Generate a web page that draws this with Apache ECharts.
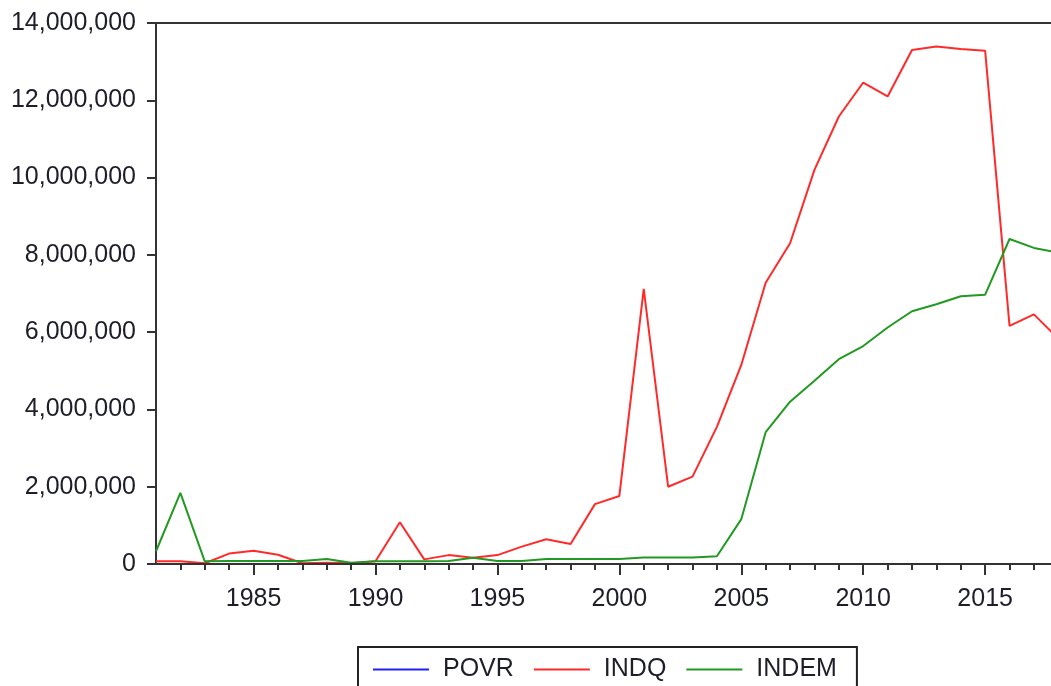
<!DOCTYPE html>
<html>
<head>
<meta charset="utf-8">
<script src="https://cdn.jsdelivr.net/npm/echarts@6/dist/echarts.min.js"></script>
<style>
html,body{margin:0;padding:0;background:#fff;}
#chart{width:1051px;height:686px;}
</style>
</head>
<body>
<div id="chart"></div>
<script>
const years = [1981,1982,1983,1984,1985,1986,1987,1988,1989,1990,1991,1992,1993,1994,1995,1996,1997,1998,1999,2000,2001,2002,2003,2004,2005,2006,2007,2008,2009,2010,2011,2012,2013,2014,2015,2016,2017,2018];
const povr  = [0,0,0,0,0,0,0,0,0,0,0,0,0,0,0,0,0,0,0,0,0,0,0,0,0,0,0,0,0,0,0,0,0,0,0,0,0,0];
const indq  = [70000,70000,20000,270000,340000,240000,20000,30000,20000,70000,1080000,120000,230000,160000,230000,450000,640000,520000,1550000,1760000,7120000,2000000,2260000,3550000,5150000,7280000,8300000,10200000,11580000,12460000,12100000,13300000,13390000,13330000,13280000,6160000,6460000,5830000];
const indem = [330000,1840000,70000,80000,80000,80000,80000,130000,30000,70000,70000,70000,80000,160000,80000,80000,130000,130000,130000,130000,170000,170000,170000,200000,1160000,3410000,4200000,4740000,5300000,5640000,6120000,6540000,6720000,6930000,6970000,8410000,8180000,8060000];
const yTicks = [0,2000000,4000000,6000000,8000000,10000000,12000000,14000000];
const majorYears = [1985,1990,1995,2000,2005,2010,2015];
const minorYears = [1982,1983,1984,1986,1987,1988,1989,1991,1992,1993,1994,1996,1997,1998,1999,2001,2002,2003,2004,2006,2007,2008,2009,2011,2012,2013,2014,2016,2017];
const seriesNames = ['POVR','INDQ','INDEM'];

const pair = arr => years.map((y,i) => [y, arr[i]]);
const fmt = v => String(v).replace(/\B(?=(\d{3})+(?!\d))/g, ',');
const txt = '#1e1e2a';
const axisCol = '#333333';
const xMin = 1981, xMax = 2017.7; // the picture is cut off just before 2018

const chart = echarts.init(document.getElementById('chart'), null, {renderer:'canvas'});
chart.setOption({
  animation: false,
  backgroundColor: '#ffffff',
  textStyle: {fontFamily: 'Liberation Sans, Arial, sans-serif'},
  grid: {left: 156, right: 0, top: 23, bottom: 122, show: false},
  legend: {
    data: seriesNames,
    left: 358, top: 647,
    icon: 'rect', itemWidth: 56, itemHeight: 2, itemGap: 20,
    padding: [10, 20, 30, 15],
    borderColor: '#222', borderWidth: 2, backgroundColor: '#fff',
    textStyle: {fontSize: 25, color: txt, fontFamily: 'Liberation Sans, Arial, sans-serif', padding: [0,0,0,9]}
  },
  xAxis: [{
    type: 'value', min: xMin, max: xMax, z: 5,
    axisLine: {show: true, lineStyle: {color: axisCol, width: 2}},
    axisTick: {show: true, length: 11, customValues: majorYears, lineStyle: {color: axisCol, width: 2}},
    axisLabel: {show: true, customValues: majorYears, margin: 23, fontSize: 25, color: txt, formatter: v => String(v)},
    splitLine: {show: false}
  },{
    type: 'value', min: xMin, max: xMax, position: 'bottom', z: 5,
    axisLine: {show: false},
    axisTick: {show: true, length: 6, customValues: minorYears, lineStyle: {color: axisCol, width: 2}},
    axisLabel: {show: false},
    splitLine: {show: false}
  },{
    type: 'value', min: xMin, max: xMax, position: 'top', z: 5,
    axisLine: {show: true, lineStyle: {color: axisCol, width: 2}},
    axisTick: {show: false},
    axisLabel: {show: false},
    splitLine: {show: false}
  }],
  yAxis: {
    type: 'value', min: 0, max: 14000000, interval: 2000000,
    axisLine: {show: true, lineStyle: {color: axisCol, width: 2}},
    axisTick: {show: true, length: 9, lineStyle: {color: axisCol, width: 2}},
    axisLabel: {margin: 20, fontSize: 25, color: txt, customValues: yTicks, formatter: v => fmt(v)},
    splitLine: {show: false}
  },
  series: [
    {name: 'POVR', type: 'line', data: pair(povr), symbol: 'none', z: 1, clip: true, lineStyle: {color: '#2020ff', width: 2}, itemStyle: {color: '#2020ff'}},
    {name: 'INDQ', type: 'line', data: pair(indq), symbol: 'none', z: 2, clip: true, lineStyle: {color: '#ff2a2a', width: 2}, itemStyle: {color: '#ff2a2a'}},
    {name: 'INDEM', type: 'line', data: pair(indem), symbol: 'none', z: 3, clip: true, lineStyle: {color: '#229922', width: 2}, itemStyle: {color: '#229922'}}
  ]
});
</script>
</body>
</html>
